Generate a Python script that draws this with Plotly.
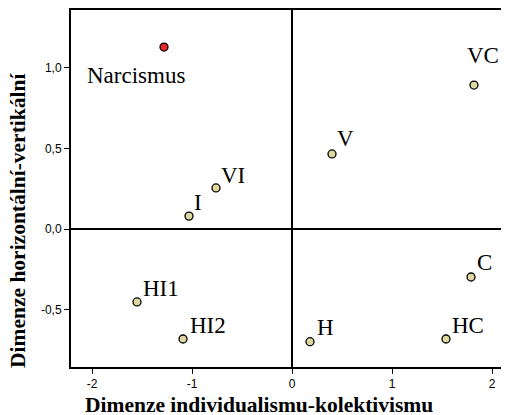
import plotly.graph_objects as go

labels = ["Narcismus", "VI", "I", "V", "VC", "HI1", "HI2", "H", "HC", "C"]
x_vals = [-1.28, -0.76, -1.03, 0.40, 1.82, -1.55, -1.09, 0.18, 1.54, 1.79]
y_vals = [1.13, 0.255, 0.08, 0.466, 0.894, -0.453, -0.683, -0.70, -0.683, -0.298]
colors = ["#e8282a"] + ["#ded8a0"] * 9
x_ticks = [-2, -1, 0, 1, 2]
y_ticks = [-0.5, 0.0, 0.5, 1.0]
y_tick_text = ["-0,5", "0,0", "0,5", "1,0"]
x_title = "Dimenze individualismu-kolektivismu"
y_title = "Dimenze horizontální-vertikální"

# label offsets (px) relative to point: (xshift, yshift)
offsets = {
    "Narcismus": (-79, -28),
    "VI": (3, 12),
    "I": (3, 14),
    "V": (3, 15),
    "VC": (-9, 30),
    "HI1": (4, 13),
    "HI2": (5, 13),
    "H": (5, 14),
    "HC": (4, 13),
    "C": (4, 14),
}

fig = go.Figure()
fig.add_trace(go.Scatter(
    x=x_vals, y=y_vals, mode="markers",
    marker=dict(size=8, color=colors, line=dict(color="black", width=1.3)),
    hoverinfo="skip", showlegend=False,
))

annotations = []
for lab, xv, yv in zip(labels, x_vals, y_vals):
    dx, dy = offsets[lab]
    annotations.append(dict(
        x=xv, y=yv, xref="x", yref="y", text=lab, showarrow=False,
        xanchor="left", yanchor="middle", xshift=dx, yshift=dy,
        font=dict(family="Liberation Serif", size=23, color="black"),
    ))

annotations.append(dict(
    x=0.429, y=-0.106, xref="paper", yref="paper", text="<b>" + x_title + "</b>",
    showarrow=False, xanchor="center", yanchor="middle",
    font=dict(family="Liberation Serif", size=21.5, color="black"),
))
annotations.append(dict(
    x=-0.121, y=0.409, xref="paper", yref="paper", text="<b>" + y_title + "</b>",
    showarrow=False, xanchor="center", yanchor="middle", textangle=-90,
    font=dict(family="Liberation Serif", size=21.5, color="black"),
))

# page body has an 8px default margin; compensate so the plot lands where the reference has it
fig.update_layout(
    width=501, height=407,
    margin=dict(l=63, r=0, t=2, b=48, autoexpand=False),
    paper_bgcolor="white", plot_bgcolor="white",
    annotations=annotations,
    xaxis=dict(
        range=[-2.21, 2.17], tickvals=x_ticks, ticktext=[str(t) for t in x_ticks],
        ticks="outside", ticklen=5, tickwidth=1, tickcolor="black",
        showgrid=False, zeroline=True, zerolinecolor="black", zerolinewidth=1.5,
        showline=True, linecolor="black", linewidth=2, mirror=True,
        tickfont=dict(family="Liberation Sans", size=12, color="black"),
        automargin=False, fixedrange=True,
    ),
    yaxis=dict(
        range=[-0.857, 1.36], tickvals=y_ticks, ticktext=y_tick_text,
        ticks="outside", ticklen=5, tickwidth=1, tickcolor="black",
        showgrid=False, zeroline=True, zerolinecolor="black", zerolinewidth=1.5,
        showline=True, linecolor="black", linewidth=2,
        tickfont=dict(family="Liberation Sans", size=12, color="black"),
        automargin=False, fixedrange=True,
    ),
)

fig.write_html("out.html")
